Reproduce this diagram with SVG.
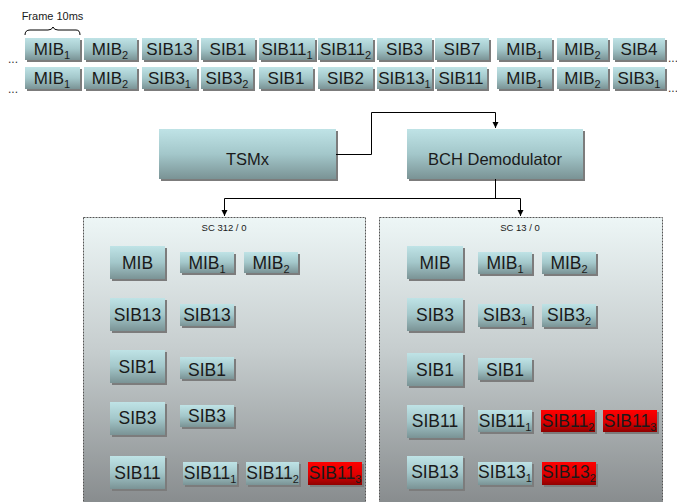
<svg xmlns="http://www.w3.org/2000/svg" width="677" height="502" viewBox="0 0 677 502">
<defs>
<linearGradient id="gBox" x1="0" y1="0" x2="0" y2="1">
<stop offset="0" stop-color="#bfe3e6"/>
<stop offset="0.5" stop-color="#a3c7ca"/>
<stop offset="1" stop-color="#7a9395"/>
</linearGradient>
<linearGradient id="gRed" x1="0" y1="0" x2="0" y2="1">
<stop offset="0" stop-color="#ff0000"/>
<stop offset="0.55" stop-color="#dd0000"/>
<stop offset="1" stop-color="#8f0000"/>
</linearGradient>
<linearGradient id="gPanel" x1="0" y1="0" x2="0" y2="1">
<stop offset="0" stop-color="#edf6f6"/>
<stop offset="0.45" stop-color="#c6cdce"/>
<stop offset="1" stop-color="#84888a"/>
</linearGradient>
<marker id="arr" markerWidth="8" markerHeight="8" refX="6" refY="4" orient="auto" markerUnits="userSpaceOnUse">
<path d="M0,1 L6,4 L0,7 Z" fill="#000"/>
</marker>
</defs>
<style>
text{font-family:"Liberation Sans",Arial,sans-serif;fill:#1a1a1a;}
.bx{fill:url(#gBox);}
.red{fill:url(#gRed);}
.sh{fill:#7c7c7c;}
.t{font-size:17px;text-anchor:middle;}
.tp{font-size:17.5px;text-anchor:middle;}
.tm{font-size:16.5px;text-anchor:middle;}
.sub{font-size:11px;}
.frame{font-size:11px;text-anchor:middle;}
.small{font-size:9.5px;text-anchor:middle;}
.dots{font-size:12px;fill:#333;}
.panel{fill:url(#gPanel);stroke:#555;stroke-width:1;stroke-dasharray:2,1;}
.ln{fill:none;stroke:#000;stroke-width:1;}
</style>

<rect width="677" height="502" fill="#fff"/>

<!-- Frame label and brace -->
<g id="frame">
<text x="52.5" y="20" class="frame">Frame 10ms</text>
<path class="ln" d="M25,35 Q25,30 30,30 L48,30 Q52,30 53,27 Q54,30 58,30 L76,30 Q80,30 80,35" stroke-width="0.8"/>
</g>

<!-- Top row -->
<g id="row1">
<text x="8" y="63" class="dots">...</text>
<g id="r1b1"><rect class="sh" x="27" y="40" width="55" height="22"/><rect class="bx" x="25" y="38" width="55" height="22"/><text x="52" y="54.5" class="t">MIB<tspan class="sub" dy="4">1</tspan></text></g>
<g id="r1b2"><rect class="sh" x="86" y="40" width="53" height="22"/><rect class="bx" x="84" y="38" width="53" height="22"/><text x="110" y="54.5" class="t">MIB<tspan class="sub" dy="4">2</tspan></text></g>
<g id="r1b3"><rect class="sh" x="144" y="40" width="55" height="22"/><rect class="bx" x="142" y="38" width="55" height="22"/><text x="169.5" y="54.5" class="t">SIB13</text></g>
<g id="r1b4"><rect class="sh" x="203" y="40" width="54" height="22"/><rect class="bx" x="201" y="38" width="54" height="22"/><text x="228" y="54.5" class="t">SIB1</text></g>
<g id="r1b5"><rect class="sh" x="261" y="40" width="56" height="22"/><rect class="bx" x="259" y="38" width="56" height="22"/><text x="287" y="54.5" class="t">SIB11<tspan class="sub" dy="4">1</tspan></text></g>
<g id="r1b6"><rect class="sh" x="320" y="40" width="55" height="22"/><rect class="bx" x="318" y="38" width="55" height="22"/><text x="345.5" y="54.5" class="t">SIB11<tspan class="sub" dy="4">2</tspan></text></g>
<g id="r1b7"><rect class="sh" x="379" y="40" width="55" height="22"/><rect class="bx" x="377" y="38" width="55" height="22"/><text x="404.5" y="54.5" class="t">SIB3</text></g>
<g id="r1b8"><rect class="sh" x="437" y="40" width="54" height="22"/><rect class="bx" x="435" y="38" width="54" height="22"/><text x="462" y="54.5" class="t">SIB7</text></g>
<g id="r1b9"><rect class="sh" x="499" y="40" width="55" height="22"/><rect class="bx" x="497" y="38" width="55" height="22"/><text x="524.5" y="54.5" class="t">MIB<tspan class="sub" dy="4">1</tspan></text></g>
<g id="r1b10"><rect class="sh" x="559" y="40" width="51" height="22"/><rect class="bx" x="557" y="38" width="51" height="22"/><text x="582.5" y="54.5" class="t">MIB<tspan class="sub" dy="4">2</tspan></text></g>
<g id="r1b11"><rect class="sh" x="615" y="40" width="52" height="22"/><rect class="bx" x="613" y="38" width="52" height="22"/><text x="639" y="54.5" class="t">SIB4</text></g>
<text x="668" y="62" class="dots">...</text>
</g>

<!-- Second row -->
<g id="row2">
<text x="8" y="93" class="dots">...</text>
<g id="r2b1"><rect class="sh" x="27" y="69" width="55" height="22"/><rect class="bx" x="25" y="67" width="55" height="22"/><text x="52" y="83.5" class="t">MIB<tspan class="sub" dy="4">1</tspan></text></g>
<g id="r2b2"><rect class="sh" x="86" y="69" width="53" height="22"/><rect class="bx" x="84" y="67" width="53" height="22"/><text x="110" y="83.5" class="t">MIB<tspan class="sub" dy="4">2</tspan></text></g>
<g id="r2b3"><rect class="sh" x="144" y="69" width="55" height="22"/><rect class="bx" x="142" y="67" width="55" height="22"/><text x="169.5" y="83.5" class="t">SIB3<tspan class="sub" dy="4">1</tspan></text></g>
<g id="r2b4"><rect class="sh" x="203" y="69" width="52" height="22"/><rect class="bx" x="201" y="67" width="52" height="22"/><text x="227" y="83.5" class="t">SIB3<tspan class="sub" dy="4">2</tspan></text></g>
<g id="r2b5"><rect class="sh" x="261" y="69" width="54" height="22"/><rect class="bx" x="259" y="67" width="54" height="22"/><text x="286" y="83.5" class="t">SIB1</text></g>
<g id="r2b6"><rect class="sh" x="320" y="69" width="55" height="22"/><rect class="bx" x="318" y="67" width="55" height="22"/><text x="345.5" y="83.5" class="t">SIB2</text></g>
<g id="r2b7"><rect class="sh" x="379" y="69" width="55" height="22"/><rect class="bx" x="377" y="67" width="55" height="22"/><text x="404.5" y="83.5" class="t">SIB13<tspan class="sub" dy="4">1</tspan></text></g>
<g id="r2b8"><rect class="sh" x="437" y="69" width="52" height="22"/><rect class="bx" x="435" y="67" width="52" height="22"/><text x="461" y="83.5" class="t">SIB11</text></g>
<g id="r2b9"><rect class="sh" x="499" y="69" width="55" height="22"/><rect class="bx" x="497" y="67" width="55" height="22"/><text x="524.5" y="83.5" class="t">MIB<tspan class="sub" dy="4">1</tspan></text></g>
<g id="r2b10"><rect class="sh" x="559" y="69" width="51" height="22"/><rect class="bx" x="557" y="67" width="51" height="22"/><text x="582.5" y="83.5" class="t">MIB<tspan class="sub" dy="4">2</tspan></text></g>
<g id="r2b11"><rect class="sh" x="615" y="69" width="52" height="22"/><rect class="bx" x="613" y="67" width="52" height="22"/><text x="639" y="83.5" class="t">SIB3<tspan class="sub" dy="4">1</tspan></text></g>
<text x="668" y="92" class="dots">...</text>
</g>

<!-- Panels -->
<g id="panelLeft">
<rect class="panel" x="83.5" y="217.5" width="282" height="295"/>
<text x="224" y="231" class="small">SC 312 / 0</text>
</g>
<g id="panelRight">
<rect class="panel" x="379.5" y="217.5" width="283" height="295"/>
<text x="520" y="231" class="small">SC 13 / 0</text>
</g>

<!-- Main nodes -->
<g id="tsmx"><rect class="sh" x="161" y="131" width="177" height="50"/><rect class="bx" x="159" y="129" width="177" height="50"/><text x="247.5" y="165" class="tm">TSMx</text></g>
<g id="bch"><rect class="sh" x="409" y="131" width="176" height="50"/><rect class="bx" x="407" y="129" width="176" height="50"/><text x="495" y="165" class="tm">BCH Demodulator</text></g>

<!-- Connectors -->
<g id="connectors">
<path class="ln" d="M336,154.5 H371.5 V112.5 H495.5 V128" marker-end="url(#arr)"/>
<path class="ln" d="M495.5,179 V198.5"/>
<path class="ln" d="M224.5,198.5 H520.5"/>
<path class="ln" d="M224.5,198.5 V216" marker-end="url(#arr)"/>
<path class="ln" d="M520.5,198.5 V216" marker-end="url(#arr)"/>
</g>

<!-- Left panel contents -->
<g id="L-MIB"><rect class="sh" x="112" y="248" width="55" height="33"/><rect class="bx" x="110" y="246" width="55" height="33"/><text x="137.5" y="269" class="tp">MIB</text></g>
<g id="L-MIB1"><rect class="sh" x="182" y="254" width="54" height="21"/><rect class="bx" x="180" y="252" width="54" height="21"/><text x="207" y="269" class="tp">MIB<tspan class="sub" dy="4">1</tspan></text></g>
<g id="L-MIB2"><rect class="sh" x="246" y="254" width="54" height="21"/><rect class="bx" x="244" y="252" width="54" height="21"/><text x="271" y="269" class="tp">MIB<tspan class="sub" dy="4">2</tspan></text></g>
<g id="L-SIB13"><rect class="sh" x="112" y="300" width="55" height="33"/><rect class="bx" x="110" y="298" width="55" height="33"/><text x="137.5" y="321" class="tp">SIB13</text></g>
<g id="L-SIB13a"><rect class="sh" x="182" y="306" width="54" height="22"/><rect class="bx" x="180" y="304" width="54" height="22"/><text x="207" y="321" class="tp">SIB13</text></g>
<g id="L-SIB1"><rect class="sh" x="112" y="352" width="55" height="33"/><rect class="bx" x="110" y="350" width="55" height="33"/><text x="137.5" y="373" class="tp">SIB1</text></g>
<g id="L-SIB1a"><rect class="sh" x="182" y="359" width="54" height="22"/><rect class="bx" x="180" y="357" width="54" height="22"/><text x="207" y="375.5" class="tp">SIB1</text></g>
<g id="L-SIB3"><rect class="sh" x="112" y="404" width="55" height="33"/><rect class="bx" x="110" y="402" width="55" height="33"/><text x="137.5" y="424" class="tp">SIB3</text></g>
<g id="L-SIB3a"><rect class="sh" x="182" y="407" width="54" height="22"/><rect class="bx" x="180" y="405" width="54" height="22"/><text x="207" y="422" class="tp">SIB3</text></g>
<g id="L-SIB11"><rect class="sh" x="112" y="458" width="55" height="33"/><rect class="bx" x="110" y="456" width="55" height="33"/><text x="137.5" y="479" class="tp">SIB11</text></g>
<g id="L-SIB11a"><rect class="sh" x="185" y="464" width="54" height="23"/><rect class="bx" x="183" y="462" width="54" height="23"/><text x="210" y="479" class="tp">SIB11<tspan class="sub" dy="4">1</tspan></text></g>
<g id="L-SIB11b"><rect class="sh" x="248" y="464" width="53" height="23"/><rect class="bx" x="246" y="462" width="53" height="23"/><text x="272.5" y="479" class="tp">SIB11<tspan class="sub" dy="4">2</tspan></text></g>
<g id="L-SIB11c"><rect class="sh" x="310" y="464" width="54" height="23"/><rect class="red" x="308" y="462" width="54" height="23"/><text x="335" y="479" class="tp">SIB11<tspan class="sub" dy="4">3</tspan></text></g>

<!-- Right panel contents -->
<g id="R-MIB"><rect class="sh" x="409" y="248" width="56" height="33"/><rect class="bx" x="407" y="246" width="56" height="33"/><text x="435" y="269" class="tp">MIB</text></g>
<g id="R-MIB1"><rect class="sh" x="480" y="254" width="54" height="22"/><rect class="bx" x="478" y="252" width="54" height="22"/><text x="505" y="269" class="tp">MIB<tspan class="sub" dy="4">1</tspan></text></g>
<g id="R-MIB2"><rect class="sh" x="544" y="254" width="54" height="22"/><rect class="bx" x="542" y="252" width="54" height="22"/><text x="569" y="269" class="tp">MIB<tspan class="sub" dy="4">2</tspan></text></g>
<g id="R-SIB3"><rect class="sh" x="409" y="300" width="56" height="33"/><rect class="bx" x="407" y="298" width="56" height="33"/><text x="435" y="321" class="tp">SIB3</text></g>
<g id="R-SIB3a"><rect class="sh" x="480" y="306" width="54" height="23"/><rect class="bx" x="478" y="304" width="54" height="23"/><text x="505" y="321" class="tp">SIB3<tspan class="sub" dy="4">1</tspan></text></g>
<g id="R-SIB3b"><rect class="sh" x="544" y="306" width="54" height="23"/><rect class="bx" x="542" y="304" width="54" height="23"/><text x="569" y="321" class="tp">SIB3<tspan class="sub" dy="4">2</tspan></text></g>
<g id="R-SIB1"><rect class="sh" x="409" y="355" width="56" height="33"/><rect class="bx" x="407" y="353" width="56" height="33"/><text x="435" y="376" class="tp">SIB1</text></g>
<g id="R-SIB1a"><rect class="sh" x="480" y="360" width="54" height="22"/><rect class="bx" x="478" y="358" width="54" height="22"/><text x="505" y="376" class="tp">SIB1</text></g>
<g id="R-SIB11"><rect class="sh" x="409" y="407" width="56" height="33"/><rect class="bx" x="407" y="405" width="56" height="33"/><text x="435" y="427" class="tp">SIB11</text></g>
<g id="R-SIB11a"><rect class="sh" x="480" y="412" width="54" height="22"/><rect class="bx" x="478" y="410" width="54" height="22"/><text x="505" y="427" class="tp">SIB11<tspan class="sub" dy="4">1</tspan></text></g>
<g id="R-SIB11b"><rect class="sh" x="543" y="412" width="54" height="22"/><rect class="red" x="541" y="410" width="54" height="22"/><text x="568" y="427" class="tp">SIB11<tspan class="sub" dy="4">2</tspan></text></g>
<g id="R-SIB11c"><rect class="sh" x="605" y="412" width="54" height="22"/><rect class="red" x="603" y="410" width="54" height="22"/><text x="630" y="427" class="tp">SIB11<tspan class="sub" dy="4">3</tspan></text></g>
<g id="R-SIB13"><rect class="sh" x="409" y="458" width="56" height="33"/><rect class="bx" x="407" y="456" width="56" height="33"/><text x="435" y="478" class="tp">SIB13</text></g>
<g id="R-SIB13a"><rect class="sh" x="480" y="464" width="54" height="23"/><rect class="bx" x="478" y="462" width="54" height="23"/><text x="505" y="478" class="tp">SIB13<tspan class="sub" dy="4">1</tspan></text></g>
<g id="R-SIB13b"><rect class="sh" x="544" y="464" width="54" height="23"/><rect class="red" x="542" y="462" width="54" height="23"/><text x="569" y="478" class="tp">SIB13<tspan class="sub" dy="4">2</tspan></text></g>
</svg>
